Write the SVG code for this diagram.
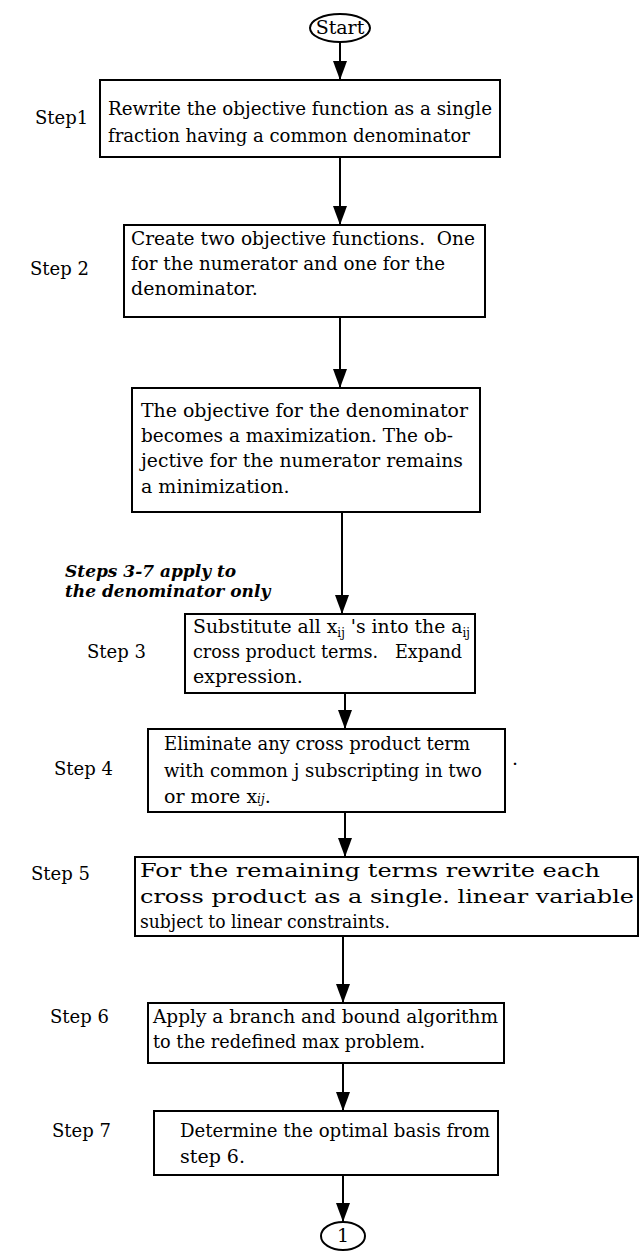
<svg xmlns="http://www.w3.org/2000/svg" width="640" height="1253" viewBox="0 0 640 1253">
<defs>
<marker id="ah" markerWidth="19" markerHeight="14" refX="19" refY="7" orient="auto" markerUnits="userSpaceOnUse" viewBox="0 0 19 14">
<path d="M0,0 L19,7 L0,14 Z" fill="#000"/>
</marker>
</defs>
<style>
.box{fill:#fff;stroke:#000;stroke-width:2}
.t{font-family:"DejaVu Serif","Liberation Serif",serif;font-size:19px;fill:#000}
.lbl{font-family:"DejaVu Serif","Liberation Serif",serif;font-size:18px;fill:#000}
.it{font-family:"DejaVu Serif","Liberation Serif",serif;font-size:17px;font-weight:bold;font-style:italic;fill:#000}
.c{fill:none;stroke:#000;stroke-width:2}
.sub{font-size:12px}
</style>
<g id="connectors">
<line class="c" x1="340" y1="42" x2="340" y2="80" marker-end="url(#ah)"/>
<line class="c" x1="340" y1="157" x2="340" y2="225" marker-end="url(#ah)"/>
<line class="c" x1="340" y1="317" x2="340" y2="388" marker-end="url(#ah)"/>
<line class="c" x1="342" y1="512" x2="342" y2="614" marker-end="url(#ah)"/>
<line class="c" x1="345" y1="693" x2="345" y2="729" marker-end="url(#ah)"/>
<line class="c" x1="345" y1="812" x2="345" y2="857" marker-end="url(#ah)"/>
<line class="c" x1="343" y1="936" x2="343" y2="1003" marker-end="url(#ah)"/>
<line class="c" x1="343" y1="1063" x2="343" y2="1111" marker-end="url(#ah)"/>
<line class="c" x1="343" y1="1175" x2="343" y2="1222" marker-end="url(#ah)"/>
</g>
<g id="start">
<ellipse cx="340" cy="28" rx="30" ry="14" fill="#fff" stroke="#000" stroke-width="2"/>
<text class="t" x="340" y="34" text-anchor="middle" font-size="18">Start</text>
</g>
<g id="step1">
<text class="lbl" x="35" y="124">Step1</text>
<rect class="box" x="100" y="80" width="400" height="77"/>
<text class="t" x="108" y="115" textLength="384" lengthAdjust="spacingAndGlyphs">Rewrite the objective function as a single</text>
<text class="t" x="108" y="142" textLength="362" lengthAdjust="spacingAndGlyphs">fraction having a common denominator</text>
</g>
<g id="step2">
<text class="lbl" x="30" y="275">Step 2</text>
<rect class="box" x="124" y="225" width="361" height="92"/>
<text class="t" x="131" y="245" textLength="344" lengthAdjust="spacingAndGlyphs">Create two objective functions.&#160; One</text>
<text class="t" x="131" y="270" textLength="314" lengthAdjust="spacingAndGlyphs">for the numerator and one for the</text>
<text class="t" x="131" y="295">denominator.</text>
</g>
<g id="objective">
<rect class="box" x="132" y="388" width="348" height="124"/>
<text class="t" x="141" y="417" textLength="327" lengthAdjust="spacingAndGlyphs">The objective for the denominator</text>
<text class="t" x="141" y="442" textLength="312" lengthAdjust="spacingAndGlyphs">becomes a maximization. The ob-</text>
<text class="t" x="141" y="467" textLength="322" lengthAdjust="spacingAndGlyphs">jective for the numerator remains</text>
<text class="t" x="141" y="493">a minimization.</text>
</g>
<g id="note">
<text class="it" x="65" y="577">Steps 3-7 apply to</text>
<text class="it" x="65" y="597">the denominator only</text>
</g>
<g id="step3">
<text class="lbl" x="87" y="658">Step 3</text>
<rect class="box" x="185" y="614" width="290" height="79"/>
<text class="t" x="193" y="633" textLength="277" lengthAdjust="spacingAndGlyphs">Substitute all x<tspan class="sub" dy="4">ij</tspan><tspan dy="-4"> 's into the a</tspan><tspan class="sub" dy="4">ij</tspan></text>
<text class="t" x="193" y="658" textLength="269" lengthAdjust="spacingAndGlyphs">cross product terms.&#160;&#160; Expand</text>
<text class="t" x="193" y="683">expression.</text>
</g>
<g id="step4">
<text class="lbl" x="54" y="775">Step 4</text>
<rect class="box" x="148" y="729" width="357" height="83"/>
<text class="t" x="164" y="750" textLength="306" lengthAdjust="spacingAndGlyphs">Eliminate any cross product term</text>
<text class="t" x="164" y="777" textLength="318" lengthAdjust="spacingAndGlyphs">with common j subscripting in two</text>
<text class="t" x="164" y="803">or more x<tspan class="sub" font-style="italic">ij</tspan>.</text>
<text class="t" x="512" y="765">.</text>
</g>
<g id="step5">
<text class="lbl" x="31" y="880">Step 5</text>
<rect class="box" x="135" y="857" width="503" height="79"/>
<text class="t" x="140" y="877" font-size="20" textLength="460" lengthAdjust="spacingAndGlyphs">For the remaining terms rewrite each</text>
<text class="t" x="140" y="903" font-size="20" textLength="494" lengthAdjust="spacingAndGlyphs">cross product as a single. linear variable</text>
<text class="t" x="140" y="928" font-size="18" textLength="250" lengthAdjust="spacingAndGlyphs">subject to linear constraints.</text>
</g>
<g id="step6">
<text class="lbl" x="50" y="1023">Step 6</text>
<rect class="box" x="148" y="1003" width="356" height="60"/>
<text class="t" x="153" y="1023" textLength="345" lengthAdjust="spacingAndGlyphs">Apply a branch and bound algorithm</text>
<text class="t" x="153" y="1048" textLength="272" lengthAdjust="spacingAndGlyphs">to the redefined max problem.</text>
</g>
<g id="step7">
<text class="lbl" x="52" y="1137">Step 7</text>
<rect class="box" x="154" y="1111" width="344" height="64"/>
<text class="t" x="180" y="1137" textLength="310" lengthAdjust="spacingAndGlyphs">Determine the optimal basis from</text>
<text class="t" x="180" y="1163">step 6.</text>
</g>
<g id="connector1">
<ellipse cx="343" cy="1236" rx="22" ry="14" fill="#fff" stroke="#000" stroke-width="2"/>
<text class="t" x="343" y="1242" text-anchor="middle" font-size="18">1</text>
</g>
</svg>
